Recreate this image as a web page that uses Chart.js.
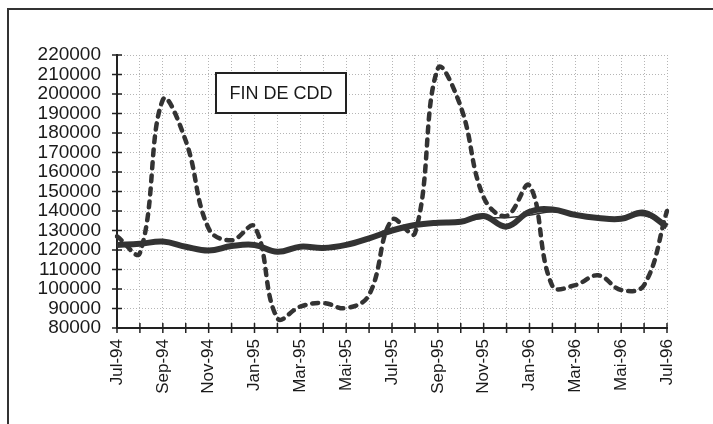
<!DOCTYPE html>
<html lang="fr">
<head>
    <meta charset="UTF-8">
    <title>Fin de CDD</title>
    <script src="https://cdn.jsdelivr.net/npm/chart.js"></script>
    <style>
        body {
            margin: 0;
            background: #fff;
            font-family: "Liberation Sans", Arial, sans-serif;
        }
        #frame {
            position: absolute;
            left: 7px;
            top: 8px;
            width: 720px;
            height: 430px;
            border-left: 2px solid #333;
            border-top: 2px solid #333;
        }
        #chart-container {
            position: absolute;
            left: 0;
            top: 0;
            width: 713px;
            height: 424px;
        }
    </style>
</head>
<body>
    <div id="frame"></div>
    <div id="chart-container">
        <canvas id="cddChart" width="713" height="424"></canvas>
    </div>

    <script>
        // monthly data, Jul-94 .. Jul-96
        const months = ['Jul-94', 'Aoû-94', 'Sep-94', 'Oct-94', 'Nov-94', 'Déc-94',
                        'Jan-95', 'Fév-95', 'Mar-95', 'Avr-95', 'Mai-95', 'Jun-95',
                        'Jul-95', 'Aoû-95', 'Sep-95', 'Oct-95', 'Nov-95', 'Déc-95',
                        'Jan-96', 'Fév-96', 'Mar-96', 'Avr-96', 'Mai-96', 'Jun-96', 'Jul-96'];

        // raw series (dashed)
        const brut = [127000, 118500, 197000, 176000, 131000, 125000,
                      132000, 85000, 91000, 92800, 90200, 97000,
                      135500, 128500, 213000, 193500, 147000, 137500,
                      153000, 101500, 102000, 107000, 99500, 102000, 140000];

        // seasonally adjusted series (thick)
        const cvs = [122600, 123200, 124300, 121700, 119700, 122000,
                     122600, 119100, 121700, 121000, 122600, 126000,
                     130000, 132800, 134000, 134500, 137400, 132000,
                     139600, 140800, 138000, 136400, 136000, 139100, 132000];

        // trend (thin)
        const tendance = [122600, 123000, 123600, 121800, 120300, 121800,
                          122200, 119800, 121500, 121200, 122600, 125800,
                          129800, 132600, 133800, 134600, 136300, 136600,
                          137800, 139600, 137800, 136600, 136300, 137600, 132600];

        const yTicks = [80000, 220000, 10000]; // min, max, step

        // cross ticks on both axes + label box
        const extras = {
            id: 'extras',
            afterDraw(chart) {
                const ctx = chart.ctx;
                const x = chart.scales.x, y = chart.scales.y;
                ctx.save();
                ctx.strokeStyle = '#222';
                ctx.lineWidth = 1.5;
                ctx.beginPath();
                y.ticks.forEach((t, i) => {
                    const py = y.getPixelForTick(i);
                    ctx.moveTo(x.left - 5, py);
                    ctx.lineTo(x.left + 5, py);
                });
                x.ticks.forEach((t, i) => {
                    const px = x.getPixelForTick(i);
                    ctx.moveTo(px, y.bottom + 5);
                    ctx.lineTo(px, y.bottom - 5);
                });
                ctx.stroke();

                // title box
                ctx.fillStyle = '#fff';
                ctx.fillRect(216, 73, 130, 40);
                ctx.lineWidth = 2;
                ctx.strokeRect(216, 73, 130, 40);
                ctx.fillStyle = '#1a1a1a';
                ctx.font = '18px "Liberation Sans", Arial, sans-serif';
                ctx.textAlign = 'center';
                ctx.textBaseline = 'middle';
                ctx.fillText('FIN DE CDD', 281, 94);
                ctx.restore();
            }
        };

        const ctx = document.getElementById('cddChart').getContext('2d');
        new Chart(ctx, {
            type: 'line',
            data: {
                labels: months,
                datasets: [{
                    label: 'Brut',
                    data: brut,
                    borderColor: '#333',
                    borderWidth: 4.5,
                    borderDash: [6, 7],
                    borderCapStyle: 'round',
                    tension: 0.4,
                    pointRadius: 0,
                    fill: false
                }, {
                    label: 'Tendance',
                    data: tendance,
                    borderColor: '#333',
                    borderWidth: 1.5,
                    tension: 0.4,
                    pointRadius: 0,
                    fill: false
                }, {
                    label: 'CVS',
                    data: cvs,
                    borderColor: '#333',
                    borderWidth: 6,
                    tension: 0.4,
                    pointRadius: 0,
                    fill: false
                }]
            },
            options: {
                responsive: false,
                animation: false,
                layout: {
                    padding: { left: 0, right: 46, top: 55, bottom: 0 }
                },
                plugins: {
                    legend: { display: false },
                    tooltip: { enabled: false }
                },
                scales: {
                    x: {
                        offset: false,
                        border: { color: '#222', width: 2, dash: [1, 2] },
                        grid: {
                            color: '#b5b5b5',
                            lineWidth: 1,
                            tickColor: 'rgba(0,0,0,0)',
                            tickLength: 5
                        },
                        ticks: {
                            autoSkip: false,
                            minRotation: 90,
                            maxRotation: 90,
                            padding: 6,
                            color: '#1a1a1a',
                            font: { family: '"Liberation Sans", Arial, sans-serif', size: 17 },
                            callback: function(value, index) {
                                return index % 2 === 0 ? months[index] : '';
                            }
                        },
                        afterFit: function(scale) { scale.height = 96; }
                    },
                    y: {
                        min: yTicks[0],
                        max: yTicks[1],
                        border: { color: '#222', width: 2, dash: [1, 2] },
                        grid: {
                            color: '#b5b5b5',
                            lineWidth: 1,
                            tickColor: 'rgba(0,0,0,0)',
                            tickLength: 5
                        },
                        ticks: {
                            autoSkip: false,
                            stepSize: yTicks[2],
                            padding: 11,
                            color: '#1a1a1a',
                            font: { family: '"Liberation Sans", Arial, sans-serif', size: 19 },
                            callback: function(value) { return String(value); }
                        },
                        afterFit: function(scale) { scale.width = 117; }
                    }
                }
            },
            plugins: [extras]
        });
    </script>
</body>
</html>
